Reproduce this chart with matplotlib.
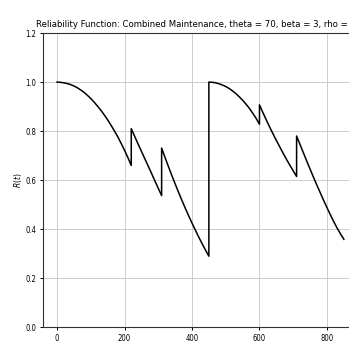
import matplotlib
matplotlib.use("Agg")
import numpy as np
import matplotlib.pyplot as plt

plt.rcParams['font.family'] = ['DejaVu Sans']
plt.rcParams['font.stretch'] = 'condensed'

# readings, one list per maintenance cycle
t_seg1 = [0, 10, 20, 30, 40, 50, 60, 70, 80, 90, 100, 110, 120, 130, 140, 150,
          160, 170, 180, 190, 200, 210, 220]
r_seg1 = [1.0, 0.999, 0.997, 0.994, 0.99, 0.984, 0.977, 0.968, 0.958, 0.946, 0.933,
          0.918, 0.902, 0.885, 0.866, 0.846, 0.824, 0.801, 0.777, 0.75, 0.722, 0.692, 0.66]
t_seg2 = [220, 230, 240, 250, 260, 270, 280, 290, 300, 310]
r_seg2 = [0.81, 0.779, 0.748, 0.718, 0.688, 0.658, 0.628, 0.597, 0.567, 0.537]
t_seg3 = [310, 320, 330, 340, 350, 360, 370, 380, 390, 400, 410, 420, 430, 440, 450]
r_seg3 = [0.731, 0.693, 0.656, 0.62, 0.585, 0.551, 0.518, 0.486, 0.455, 0.425,
          0.396, 0.368, 0.341, 0.315, 0.29]
t_seg4 = [450, 460, 470, 480, 490, 500, 510, 520, 530, 540, 550, 560, 570, 580, 590, 600]
r_seg4 = [1.0, 0.999, 0.997, 0.993, 0.988, 0.982, 0.974, 0.964, 0.953, 0.94, 0.926,
          0.91, 0.893, 0.873, 0.852, 0.828]
t_seg5 = [600, 610, 620, 630, 640, 650, 660, 670, 680, 690, 700, 710]
r_seg5 = [0.907, 0.876, 0.846, 0.817, 0.789, 0.762, 0.736, 0.71, 0.685, 0.661, 0.638, 0.615]
t_seg6 = [710, 720, 730, 740, 750, 760, 770, 780, 790, 800, 810, 820, 830, 840, 850]
r_seg6 = [0.78, 0.746, 0.712, 0.678, 0.645, 0.612, 0.58, 0.549, 0.518, 0.488, 0.459,
          0.431, 0.405, 0.381, 0.359]

t = np.concatenate([t_seg1, t_seg2, t_seg3, t_seg4, t_seg5, t_seg6])
r = np.concatenate([r_seg1, r_seg2, r_seg3, r_seg4, r_seg5, r_seg6])

title = "Reliability Function: Combined Maintenance, theta = 70, beta = 3, rho = 0.5"

fig = plt.figure(figsize=(3.49, 3.45), dpi=100)
ax = fig.add_axes([0.1223, 0.0513, 0.904, 0.853])
ax.plot(t, r, color='black', lw=1.1)
ax.set_ylim(0, 1.2)
ax.set_yticks([0.0, 0.2, 0.4, 0.6, 0.8, 1.0, 1.2])
ax.set_xticks([0, 200, 400, 600, 800])
ax.grid(True, color='#cccccc', lw=0.7)
ax.tick_params(labelsize=5.5, length=2.5, width=0.7, pad=2.3)
for s in ax.spines.values():
    s.set_linewidth(0.8)
    s.set_color('#333333')
ax.set_ylabel('$R(t)$', fontsize=6, labelpad=0.5)
ax.set_title(title, fontsize=6.8, pad=4)

fig.savefig("out.png", dpi=100)
